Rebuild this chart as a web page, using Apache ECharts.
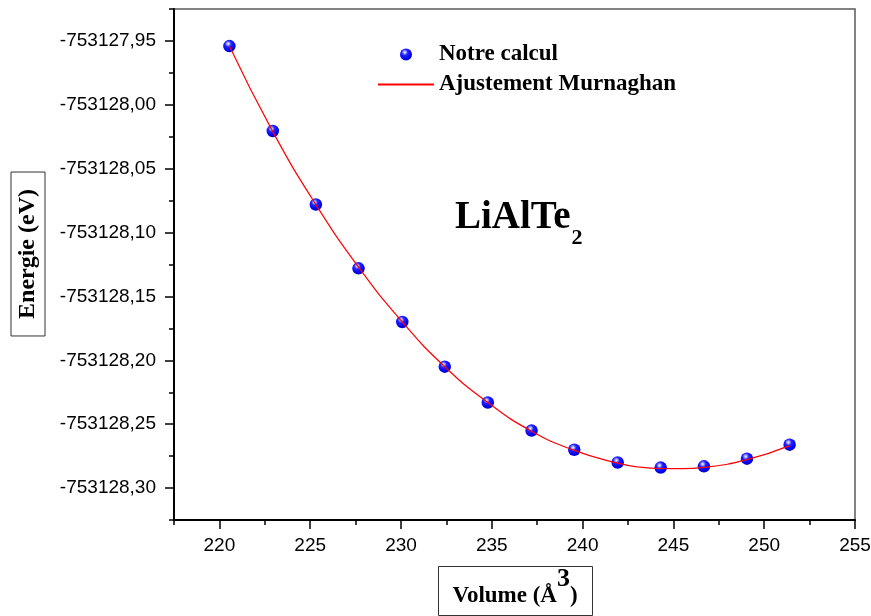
<!DOCTYPE html>
<html>
<head>
<meta charset="utf-8">
<script src="https://cdn.jsdelivr.net/npm/echarts@6/dist/echarts.min.js"></script>
<style>
  html, body { margin: 0; padding: 0; background: #ffffff; }
  #chart { width: 871px; height: 616px; }
</style>
</head>
<body>
<div id="chart"></div>
<script>
// Cell volumes (Å^3) of the computed structures
const volumes = [220.55, 222.94, 225.31, 227.66, 230.07, 232.41, 234.78,
                 237.19, 239.54, 241.93, 244.30, 246.68, 249.05, 251.40];
// Total energies (eV) at each volume
const energies = [-753127.954, -753128.0205, -753128.078, -753128.128, -753128.170,
                  -753128.205, -753128.233, -753128.255, -753128.270, -753128.280,
                  -753128.284, -753128.283, -753128.277, -753128.266];

// Murnaghan equation-of-state fit, sampled along the curve
const fitVolumes = [220.55, 222.94, 225.31, 227.66, 230.07, 232.41, 234.78, 237.19,
                    239.54, 241.93, 243.10, 244.30, 245.50, 246.68, 249.05, 251.40];
const fitEnergies = [-753127.954, -753128.021, -753128.078, -753128.127, -753128.170,
                     -753128.205, -753128.233, -753128.2555, -753128.2705, -753128.2805,
                     -753128.2835, -753128.2847, -753128.2848, -753128.2838, -753128.2778,
                     -753128.2668];

// Axis ranges: full frame, and the span covered by labelled (major) ticks
const xRange = [217.5, 255];
const xMajorRange = [220, 255];
const xMinorStep = 2.5, xMajorStep = 5;
const yRange = [-753128.325, -753127.925];
const yMajorRange = [-753128.30, -753127.95];
const yMinorStep = 0.025, yMajorStep = 0.05;

const seriesNames = ['Notre calcul', 'Ajustement Murnaghan'];

// Plot frame in pixels
const frame = { left: 174, right: 16, top: 9, bottom: 96 };
const W = 871 - frame.left - frame.right;
const H = 616 - frame.top - frame.bottom;
const dxMajor = (xMajorRange[0] - xRange[0]) / (xRange[1] - xRange[0]) * W;
const dyTop = (yRange[1] - yMajorRange[1]) / (yRange[1] - yRange[0]) * H;
const dyBottom = (yMajorRange[0] - yRange[0]) / (yRange[1] - yRange[0]) * H;

const SANS = '"Liberation Sans", Arial, sans-serif';
const SERIF = '"Liberation Serif", "Times New Roman", serif';

// x-axis title pieces: main text, raised exponent, closing bracket
const xTitleMain = 'Volume (Å', xTitleExp = '3', xTitleEnd = ')';
const titleFont = 'bold 23px ' + SERIF;
const expFont = 'bold 26px ' + SERIF;
const measure = (() => {
  const ctx = document.createElement('canvas').getContext('2d');
  return (txt, font) => { ctx.font = font; return ctx.measureText(txt).width; };
})();
const wMain = measure(xTitleMain, titleFont);
const wExp = measure(xTitleExp, expFont);
const wEnd = measure(xTitleEnd, titleFont);
const xTitleCenter = 515;
const xTitleStart = xTitleCenter - (wMain + wExp + wEnd) / 2;
const mainBaseline = 604, expBaseline = 588;
// canvas 'middle' sits about 0.3375 em above the alphabetic baseline for this face
const midAbove = fs => 0.3375 * fs;

// Shaded sphere look for the computed points
const ball = {
  type: 'radial', x: 0.4, y: 0.32, r: 0.7,
  colorStops: [
    { offset: 0, color: '#ffffff' },
    { offset: 0.16, color: '#a0a0ff' },
    { offset: 0.36, color: '#2222ff' },
    { offset: 0.8, color: '#0000f0' },
    { offset: 1, color: '#0000a8' }
  ]
};

const chart = echarts.init(document.getElementById('chart'), null, { renderer: 'canvas' });

chart.setOption({
  animation: false,
  backgroundColor: '#ffffff',
  grid: [
    { // frame with minor ticks
      left: frame.left, right: frame.right, top: frame.top, bottom: frame.bottom,
      show: true, borderColor: '#5a5a5a', borderWidth: 1.5, backgroundColor: 'transparent',
      outerBoundsMode: 'none', containLabel: false
    },
    { // major ticks and labels
      left: frame.left + dxMajor, right: frame.right,
      top: frame.top + dyTop, bottom: frame.bottom + dyBottom,
      show: false, outerBoundsMode: 'none', containLabel: false
    }
  ],
  xAxis: [
    {
      gridIndex: 0, type: 'value', min: xRange[0], max: xRange[1], interval: xMinorStep,
      axisLine: { show: true, onZero: false, lineStyle: { color: '#000', width: 2 } },
      axisTick: { show: true, inside: false, length: 5, lineStyle: { color: '#000', width: 1.5 } },
      axisLabel: { show: false },
      splitLine: { show: false }
    },
    {
      gridIndex: 1, type: 'value', min: xMajorRange[0], max: xMajorRange[1], interval: xMajorStep,
      offset: dyBottom,
      axisLine: { show: false, onZero: false },
      axisTick: { show: true, inside: false, length: 9, lineStyle: { color: '#000', width: 1.5 } },
      axisLabel: { show: true, margin: 16, color: '#000', fontSize: 19, fontFamily: SANS,
                   showMinLabel: true, showMaxLabel: true, hideOverlap: false },
      splitLine: { show: false }
    }
  ],
  yAxis: [
    {
      gridIndex: 0, type: 'value', min: yRange[0], max: yRange[1], interval: yMinorStep,
      scale: true,
      axisLine: { show: true, onZero: false, lineStyle: { color: '#000', width: 2 } },
      axisTick: { show: true, inside: false, length: 5, lineStyle: { color: '#000', width: 1.5 } },
      axisLabel: { show: false },
      splitLine: { show: false }
    },
    {
      gridIndex: 1, type: 'value', min: yMajorRange[0], max: yMajorRange[1], interval: yMajorStep,
      scale: true, offset: dxMajor,
      axisLine: { show: false, onZero: false },
      axisTick: { show: true, inside: false, length: 9, lineStyle: { color: '#000', width: 1.5 } },
      axisLabel: {
        show: true, margin: 18, color: '#000', fontSize: 19, fontFamily: SANS,
        showMinLabel: true, showMaxLabel: true, hideOverlap: false,
        formatter: v => v.toFixed(2).replace('.', ',')
      },
      splitLine: { show: false }
    }
  ],
  legend: {
    data: [
      { name: seriesNames[0] },
      { name: seriesNames[1], itemStyle: { opacity: 0 } }
    ],
    orient: 'vertical',
    left: 377, top: 43,
    padding: 0, itemGap: 7,
    itemWidth: 56, itemHeight: 12,
    selectedMode: false,
    textStyle: { fontSize: 23, fontWeight: 'bold', fontFamily: SERIF, color: '#000', lineHeight: 23 }
  },
  series: [
    {
      name: seriesNames[0], type: 'scatter',
      xAxisIndex: 0, yAxisIndex: 0,
      symbol: 'circle', symbolSize: 12.5,
      itemStyle: { color: ball, opacity: 1 },
      data: volumes.map((v, i) => [v, energies[i]]),
      z: 3
    },
    {
      name: seriesNames[1], type: 'line',
      xAxisIndex: 0, yAxisIndex: 0,
      smooth: true, symbol: 'none', showSymbol: false,
      lineStyle: { color: '#ff0000', width: 1.2 },
      itemStyle: { color: '#ff0000' },
      data: fitVolumes.map((v, i) => [v, fitEnergies[i]]),
      z: 4
    }
  ],
  graphic: [
    { // y-axis title in its frame
      type: 'text', x: 28, y: 254, rotation: Math.PI / 2,
      style: {
        text: 'Energie (eV)', fill: '#000',
        font: 'bold 24px ' + SERIF,
        align: 'center', verticalAlign: 'middle',
        padding: [5, 17, 5, 17], borderColor: '#333', borderWidth: 1
      }
    },
    { // x-axis title frame
      type: 'rect', shape: { x: 438.5, y: 566.5, width: 154, height: 49 },
      style: { fill: 'none', stroke: '#333', lineWidth: 1 }
    },
    {
      type: 'text', x: xTitleStart, y: mainBaseline - midAbove(23),
      style: { text: xTitleMain, font: titleFont, fill: '#000', align: 'left', verticalAlign: 'middle' }
    },
    {
      type: 'text', x: xTitleStart + wMain, y: expBaseline - midAbove(26),
      style: { text: xTitleExp, font: expFont, fill: '#000', align: 'left', verticalAlign: 'middle' }
    },
    {
      type: 'text', x: xTitleStart + wMain + wExp, y: mainBaseline - midAbove(23),
      style: { text: xTitleEnd, font: titleFont, fill: '#000', align: 'left', verticalAlign: 'middle' }
    },
    { // compound name
      type: 'text', x: 455, y: 198,
      style: {
        text: '{m|LiAlTe}{b|2}', fill: '#000',
        align: 'left', verticalAlign: 'top',
        rich: {
          m: { fontSize: 39, fontWeight: 'bold', fontFamily: SERIF, lineHeight: 40, verticalAlign: 'top', fill: '#000' },
          b: { fontSize: 22, fontWeight: 'bold', fontFamily: SERIF, lineHeight: 22, verticalAlign: 'top',
               padding: [29, 0, 0, 1], fill: '#000' }
        }
      }
    }
  ]
});
</script>
</body>
</html>
